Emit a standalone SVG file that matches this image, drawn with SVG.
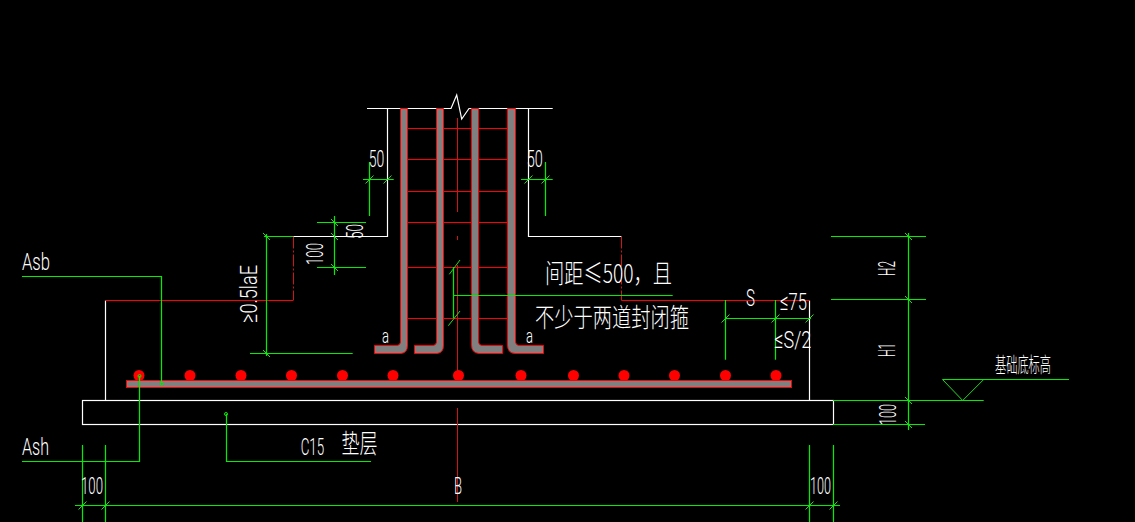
<svg xmlns="http://www.w3.org/2000/svg" width="1135" height="522" viewBox="0 0 1135 522">
<style>
.w{fill:none;stroke:#fff;stroke-width:1.2}
.g{fill:none;stroke:#0e0;stroke-width:1.2}
.t{fill:none;stroke:#2d2;stroke-width:1}
.r{fill:none;stroke:#f00;stroke-width:1.2}
.d{fill:none;stroke:#d01515;stroke-width:1}
.b{fill:#808080;stroke:#f00;stroke-width:1}
.o{fill:#f00}
.c{fill:none;stroke:#0e0;stroke-width:1}
text{fill:#fff;font-family:Roboto,"Liberation Sans","Noto Sans CJK SC",sans-serif;font-size:24.500px;font-weight:300}
.z{font-family:"Noto Sans CJK SC","Liberation Sans",sans-serif;font-size:26px;font-weight:300}
</style>
<defs>
<path id="f" class="t" d="M-4,4L4,-4"/>
<path id="k" class="t" d="M-3.500,-3.500L3.500,3.500"/>
</defs>
<rect width="1135" height="522" fill="#000"/>
<g id="outline">
<path class="w" d="M367,108.500H451L456.700,95L461.700,119L469,108.500H552.700"/>
<path class="w" d="M387.500,108.500V236.500H293"/>
<path class="w" d="M528.500,108.500V236.500H621.500"/>
<path class="w" d="M105.500,300.500V400.500M809.500,300.500V400.500"/>
<rect id="cushion" class="w" x="82.500" y="400.500" width="751" height="24"/>
</g>
<g id="rebar">
<path class="r" d="M105.500,300.500H293M621.500,300.500H809.500"/>
<path class="d" stroke-dasharray="12 2 2 2" d="M293.500,236.500V300.500M621.500,236.500V300.500"/>
<path class="d" d="M457.500,118V212M457.500,236V240M457.500,265V383M457.500,408V502"/>
<path class="r" d="M400,128.500H515M400,159.500H515M400,191.500H515M400,222.500H515M400,267.500H515M400,318.500H515"/>
<path class="b" d="M400.500,108.500V341Q400.500,345.500 396,345.500H374.500V353.500H401Q407.500,353 407.500,345V108.500Z"/>
<path class="b" d="M436.500,108.500V341Q436.500,345.500 432,345.500H414.500V353.500H437Q443.500,353 443.500,345V108.500Z"/>
<path class="b" d="M478.500,108.500V341Q478.500,345.500 483,345.500H502.500V353.500H479Q471.500,353 471.500,345V108.500Z"/>
<path class="b" d="M515.500,108.500V341Q515.500,345.500 520,345.500H543.500V353.500H515Q507.500,353 507.500,345V108.500Z"/>
<rect id="main-bar" class="b" x="126.500" y="380.500" width="665" height="7"/>
<g id="dots">
<circle class="o" cx="139" cy="375.500" r="5.500"/><circle class="o" cx="190" cy="375.500" r="5.500"/><circle class="o" cx="241" cy="375.500" r="5.500"/><circle class="o" cx="291.500" cy="375.500" r="5.500"/><circle class="o" cx="342.500" cy="375.500" r="5.500"/><circle class="o" cx="393" cy="375.500" r="5.500"/><circle class="o" cx="458.500" cy="375.500" r="5.500"/><circle class="o" cx="521" cy="375.500" r="5.500"/><circle class="o" cx="573.500" cy="375.500" r="5.500"/><circle class="o" cx="624" cy="375.500" r="5.500"/><circle class="o" cx="674.500" cy="375.500" r="5.500"/><circle class="o" cx="725.500" cy="375.500" r="5.500"/><circle class="o" cx="776" cy="375.500" r="5.500"/>
</g>
</g>
<g id="connectors">
<path class="g" d="M363,179.500H393.700M369.500,162V216M521,179.500H552.700M545.500,162V216"/>
<path class="g" d="M317,222.500H366M317,267.500H366M334.500,216V275"/>
<path class="g" d="M264,236.500H293M266.500,234V356M250,353.500H352.700"/>
<path class="g" d="M453.500,267V318M453.500,295.500H672.700"/>
<path class="g" d="M725.500,300V359.700M775.500,300V359.700M725.500,318.500H811"/>
<path class="g" d="M908.500,233V430M831,236.500H926M831,299.500H926M833,400.500H983.700M833,424.500H925"/>
<path class="g" d="M942.500,379.500H1069"/>
<path class="t" d="M942.500,379.500L962.700,400.500L983.700,379.500"/>
<path class="g" d="M22,276.500H161.500V383"/>
<path class="g" d="M139.500,376V461.500H22"/>
<path class="g" d="M226.500,414V461.500H371"/>
<circle class="c" cx="161.700" cy="383.700" r="1.500"/><circle class="c" cx="139.500" cy="376" r="1.500"/><circle class="c" cx="226" cy="414" r="1.500"/>
<path class="g" d="M75,505.500H840M82.500,445V522M105.500,445V522M809.500,445V522M833.500,445V522"/>
<use href="#f" x="369.500" y="179.500"/><use href="#f" x="387.500" y="179.500"/><use href="#f" x="528.500" y="179.500"/><use href="#f" x="545.500" y="179.500"/>
<use href="#k" x="334.500" y="222.500"/><use href="#k" x="334.500" y="236.500"/><use href="#k" x="334.500" y="267.500"/>
<use href="#k" x="266.500" y="236.500"/><use href="#k" x="266.500" y="353.500"/>
<path class="t" d="M449.300,274.300L460,260M448.300,325.700L460,311"/>
<use href="#f" x="725.500" y="318.500"/><use href="#f" x="775.500" y="318.500"/><use href="#f" x="809.500" y="318.500"/>
<use href="#k" x="908.500" y="236.500"/><use href="#k" x="908.500" y="299.500"/><use href="#k" x="908.500" y="400.500"/><use href="#k" x="908.500" y="424.500"/>
<use href="#f" x="82.500" y="505.500"/><use href="#f" x="105.500" y="505.500"/><use href="#f" x="809.500" y="505.500"/><use href="#f" x="833.500" y="505.500"/>
</g>
<g id="labels">
<text x="22" y="270" textLength="28" lengthAdjust="spacingAndGlyphs">Asb</text>
<text x="22" y="455" textLength="27" lengthAdjust="spacingAndGlyphs">Ash</text>
<text x="81" y="494" textLength="22" lengthAdjust="spacingAndGlyphs">100</text>
<text x="810" y="494" textLength="21" lengthAdjust="spacingAndGlyphs">100</text>
<text x="454" y="494" textLength="8" lengthAdjust="spacingAndGlyphs">B</text>
<text x="300.700" y="455" textLength="23.500" lengthAdjust="spacingAndGlyphs">C15</text>
<text class="z" x="341.500" y="453" textLength="36" lengthAdjust="spacingAndGlyphs">垫层</text>
<text x="368.700" y="167" textLength="15.500" lengthAdjust="spacingAndGlyphs">50</text>
<text x="526.700" y="167" textLength="16" lengthAdjust="spacingAndGlyphs">50</text>
<text transform="translate(363 239) rotate(-90)" textLength="15" lengthAdjust="spacingAndGlyphs">50</text>
<text transform="translate(323 265) rotate(-90)" textLength="22" lengthAdjust="spacingAndGlyphs">100</text>
<text transform="translate(257 323) rotate(-90)" textLength="58" lengthAdjust="spacingAndGlyphs">≥0.5laE</text>
<text x="382" y="343" style="font-size:21px" textLength="7" lengthAdjust="spacingAndGlyphs">a</text>
<text x="526" y="343" style="font-size:21px" textLength="7" lengthAdjust="spacingAndGlyphs">a</text>
<text class="z" x="545" y="283" textLength="127" lengthAdjust="spacingAndGlyphs">间距≤500，且</text>
<text class="z" x="535" y="327" textLength="154" lengthAdjust="spacingAndGlyphs">不少于两道封闭箍</text>
<text x="746" y="306" textLength="9" lengthAdjust="spacingAndGlyphs">S</text>
<text x="780" y="310" textLength="27" lengthAdjust="spacingAndGlyphs">≤75</text>
<text x="774.300" y="348" textLength="37" lengthAdjust="spacingAndGlyphs">≤S/2</text>
<text transform="translate(895 276) rotate(-90)" textLength="15" lengthAdjust="spacingAndGlyphs">H2</text>
<text transform="translate(895 357) rotate(-90)" textLength="14" lengthAdjust="spacingAndGlyphs">H1</text>
<text transform="translate(896 425) rotate(-90)" textLength="21" lengthAdjust="spacingAndGlyphs">100</text>
<text class="z" x="995" y="372" style="font-size:21px" textLength="56" lengthAdjust="spacingAndGlyphs">基础底标高</text>
</g>
</svg>
